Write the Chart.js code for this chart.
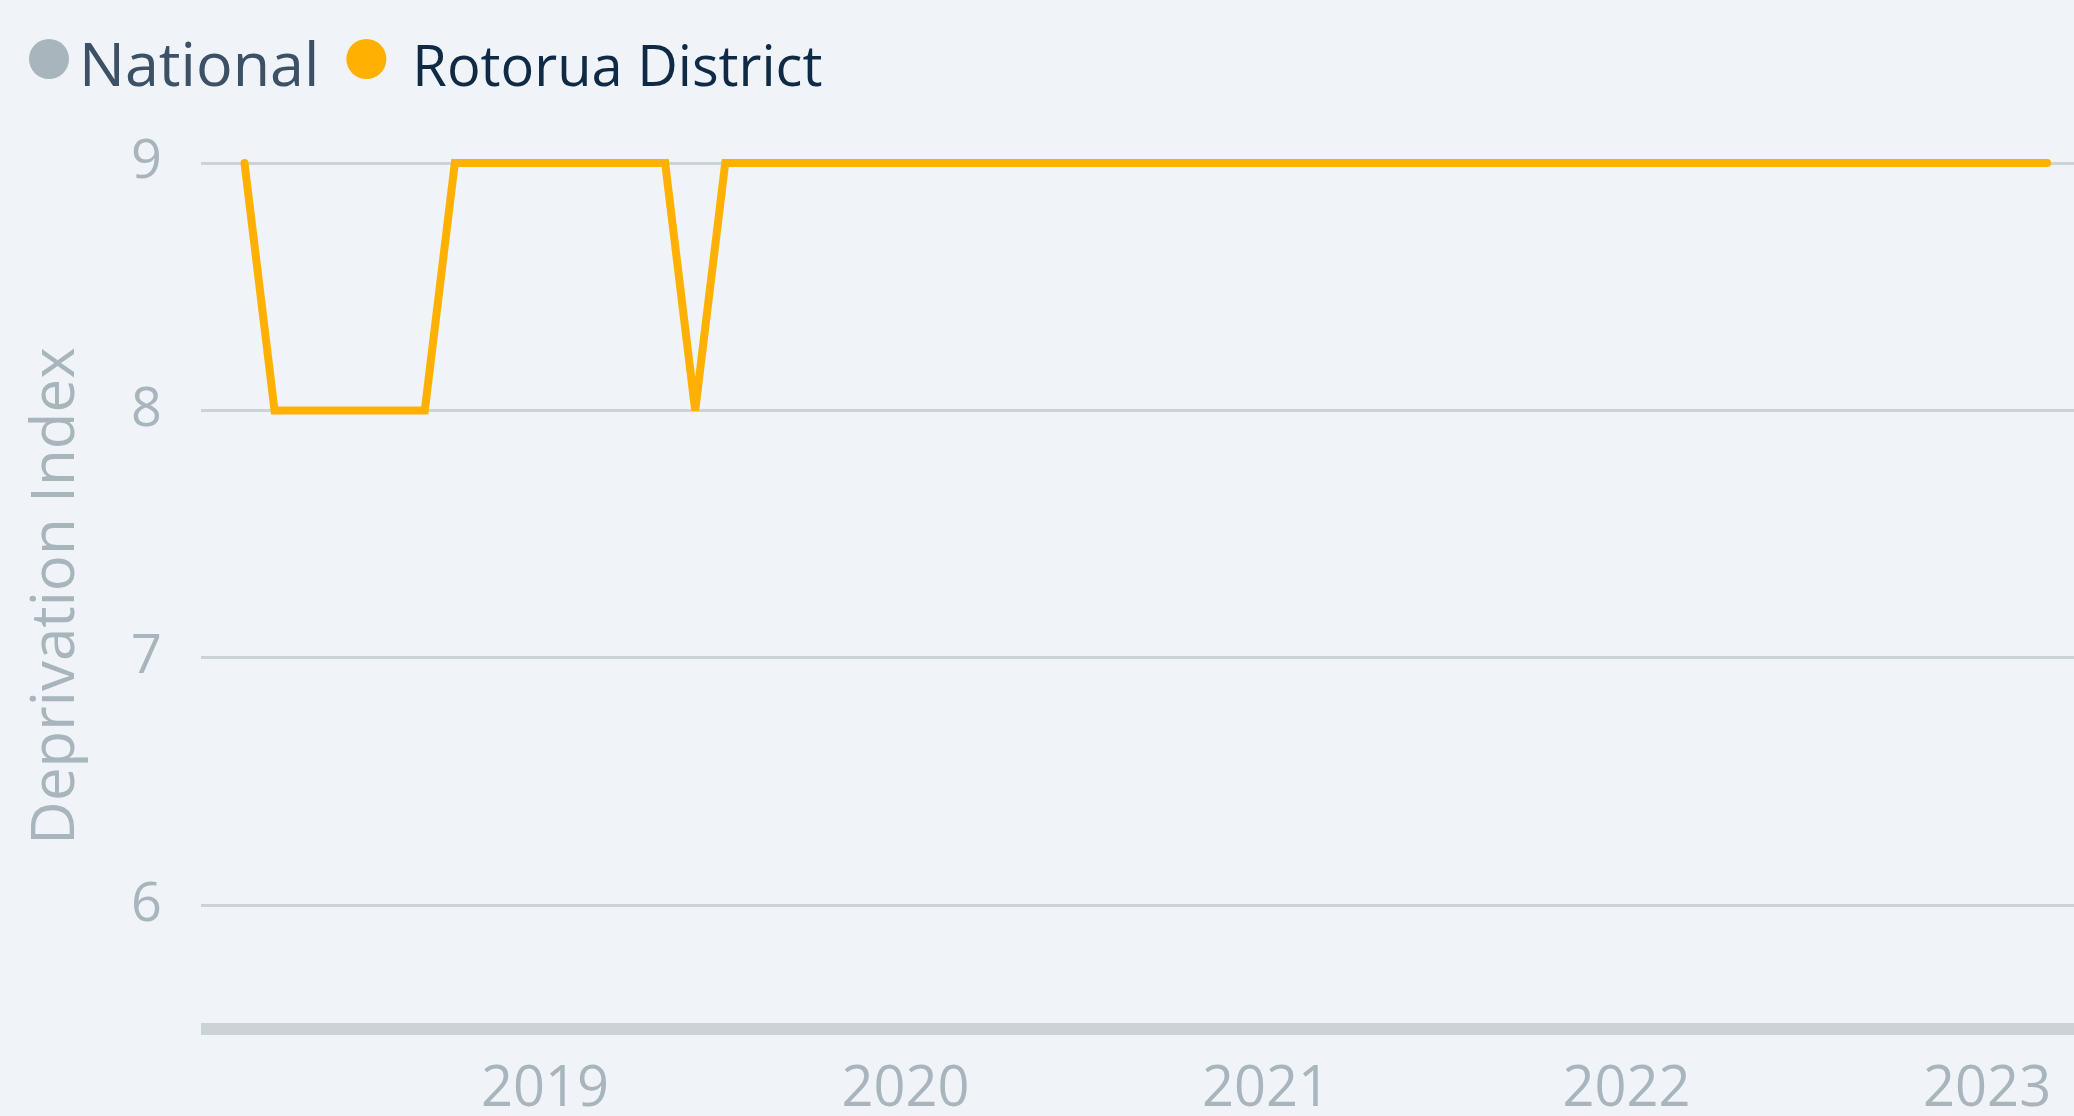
<!DOCTYPE html>
<html lang="en">
<head>
<meta charset="UTF-8">
<title>Deprivation Index - Rotorua District</title>
<script src="https://cdn.jsdelivr.net/npm/chart.js"></script>
<style>
  html, body { margin: 0; padding: 0; background: #f0f4f8; }
  #wrap { position: relative; width: 2074px; height: 1116px; }
</style>
</head>
<body>
<div id="wrap"><canvas id="chart"></canvas></div>
<script>
// monthly readings, first of each month
const months = [
  '2018-03', '2018-04', '2018-05', '2018-06', '2018-07', '2018-08', '2018-09', '2018-10', '2018-11', '2018-12',
  '2019-01', '2019-02', '2019-03', '2019-04', '2019-05', '2019-06', '2019-07', '2019-08', '2019-09', '2019-10', '2019-11', '2019-12',
  '2020-01', '2020-02', '2020-03', '2020-04', '2020-05', '2020-06', '2020-07', '2020-08', '2020-09', '2020-10', '2020-11', '2020-12',
  '2021-01', '2021-02', '2021-03', '2021-04', '2021-05', '2021-06', '2021-07', '2021-08', '2021-09', '2021-10', '2021-11', '2021-12',
  '2022-01', '2022-02', '2022-03', '2022-04', '2022-05', '2022-06', '2022-07', '2022-08', '2022-09', '2022-10', '2022-11', '2022-12',
  '2023-01', '2023-02', '2023-03'
];
const rotorua = [
  9, 8, 8, 8, 8, 8, 8, 9, 9, 9,
  9, 9, 9, 9, 9, 8, 9, 9, 9, 9, 9, 9,
  9, 9, 9, 9, 9, 9, 9, 9, 9, 9, 9, 9,
  9, 9, 9, 9, 9, 9, 9, 9, 9, 9, 9, 9,
  9, 9, 9, 9, 9, 9, 9, 9, 9, 9, 9, 9,
  9, 9, 9
];
const national = []; // listed in the legend, no line shown
const yearTicks = [2019, 2020, 2021, 2022, 2023];

// no date adapter available, so months become decimal years on a linear axis
function toYear(m) {
  const [y, mo] = m.split('-').map(Number);
  return y + (mo - 1) / 12;
}

const muted = '#a8b5bc';
const gridColor = '#cbd3d9';
const orange = '#ffb000';
const yMin = 5.5;

// per legend entry: text size, text colour, gap after the dot
const legendLook = [
  { size: 61, color: '#3d5166', gap: 10 },
  { size: 56, color: '#0f2a45', gap: 26 }
];

const topLegend = {
  id: 'topLegend',
  afterDraw(chart) {
    const ctx = chart.ctx;
    let x = 29;
    ctx.save();
    chart.data.datasets.forEach((ds, i) => {
      const look = legendLook[i];
      ctx.fillStyle = ds.borderColor;
      ctx.beginPath();
      ctx.arc(x + 20, 59, 20, 0, Math.PI * 2);
      ctx.fill();
      x += 40 + look.gap;
      ctx.font = look.size + 'px "Open Sans"';
      ctx.fillStyle = look.color;
      ctx.textBaseline = 'alphabetic';
      ctx.textAlign = 'left';
      ctx.fillText(ds.label, x, 86);
      x += ctx.measureText(ds.label).width + 27;
    });
    ctx.restore();
  }
};

// sharp V tips get cut flat instead of a long miter spike
const joinLimit = {
  id: 'joinLimit',
  beforeDatasetsDraw(chart) { chart.ctx.miterLimit = 4; },
  afterDatasetsDraw(chart) { chart.ctx.miterLimit = 10; }
};

Chart.defaults.font.family = '"Open Sans", sans-serif';

const ctx = document.getElementById('chart').getContext('2d');
const chart = new Chart(ctx, {
  type: 'line',
  data: {
    datasets: [
      {
        label: 'National',
        data: national,
        borderColor: muted,
        backgroundColor: muted
      },
      {
        label: 'Rotorua District',
        data: months.map((m, i) => ({ x: toYear(m), y: rotorua[i] })),
        borderColor: orange,
        backgroundColor: orange,
        borderWidth: 8,
        borderCapStyle: 'round',
        pointRadius: 0,
        tension: 0,
        fill: false,
        clip: false
      }
    ]
  },
  options: {
    responsive: true,
    maintainAspectRatio: false,
    animation: false,
    layout: { padding: { top: 163, right: 0, bottom: 0, left: 0 } },
    plugins: {
      legend: { display: false },
      tooltip: { enabled: false }
    },
    scales: {
      x: {
        type: 'linear',
        min: 2018.046,
        max: 2023.241,
        afterBuildTicks: (scale) => {
          scale.ticks = yearTicks.map(v => ({ value: v }));
        },
        afterFit: (scale) => { scale.height = 87; },
        grid: { display: false },
        border: { display: false },
        ticks: {
          color: muted,
          font: { size: 56 },
          padding: 19,
          maxRotation: 0,
          autoSkip: false,
          callback: (v) => String(v)
        }
      },
      y: {
        min: yMin,
        max: 9,
        afterFit: (scale) => { scale.width = 201; },
        border: { display: false },
        grid: {
          color: gridColor,
          // the floor line of the plot is the heavy bar
          lineWidth: (c) => (c.tick && c.tick.value === yMin ? 12 : 3),
          drawTicks: false
        },
        ticks: {
          stepSize: 1,
          includeBounds: true,
          color: muted,
          font: { size: 54 },
          padding: 39,
          callback: (v) => (Number.isInteger(v) ? String(v) : '')
        },
        title: {
          display: true,
          text: 'Deprivation Index',
          color: muted,
          font: { size: 60 },
          padding: { top: 21, bottom: 0 }
        }
      }
    }
  },
  plugins: [topLegend, joinLimit]
});
</script>
</body>
</html>
